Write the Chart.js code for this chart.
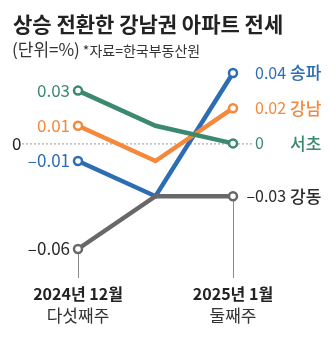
<!DOCTYPE html>
<html>
<head>
<meta charset="utf-8">
<script src="https://cdn.jsdelivr.net/npm/chart.js@4"></script>
<style>
  html, body { margin: 0; padding: 0; background: #fff; }
  canvas { display: block; }
</style>
</head>
<body>
<canvas id="chart" width="336" height="362"></canvas>
<script>
const weeks = ["2024년 12월|다섯째주", "2025년 1월|첫째주", "2025년 1월|둘째주"]
const districts = ["송파", "강남", "서초", "강동"]
const songpa = [-0.01, -0.03, 0.04]
const gangnam = [0.01, -0.01, 0.02]
const seocho = [0.03, 0.01, 0]
const gangdong = [-0.06, -0.03, -0.03]
const lineColors = ["#2d6db4", "#f4883b", "#3c8a6d", "#686868"]
const textColors = ["#2d6db4", "#f4883b", "#3c8a6d", "#2a2a2a"]
const tickWeeks = [0, 2]

const series = [songpa, gangnam, seocho, gangdong]
const NUM_FONT = "'Liberation Sans Narrow', 'Noto Sans CJK KR', sans-serif"
const KR_FONT = "'Noto Sans CJK KR', sans-serif"

function fmt(v) {
  if (v === 0) return "0"
  return (v < 0 ? "–" : "") + Math.abs(v).toFixed(2)
}

const decorations = {
  id: "decorations",
  beforeDatasetsDraw(chart) {
    const { ctx, scales: { x, y } } = chart
    ctx.save()
    // zero line
    const y0 = y.getPixelForValue(0)
    ctx.strokeStyle = "#9a9a9a"
    ctx.lineWidth = 1
    ctx.setLineDash([2, 2])
    ctx.beginPath()
    ctx.moveTo(22, y0 + 0.5)
    ctx.lineTo(252, y0 + 0.5)
    ctx.stroke()
    ctx.setLineDash([])
    // tick lines below the labelled weeks
    ctx.strokeStyle = "#8a8a8a"
    tickWeeks.forEach(i => {
      const px = Math.round(x.getPixelForValue(i)) + 0.5
      const low = Math.min(...series.map(s => s[i]))
      ctx.beginPath()
      ctx.moveTo(px, y.getPixelForValue(low))
      ctx.lineTo(px, 278)
      ctx.stroke()
    })
    ctx.restore()
  },
  afterDraw(chart) {
    const { ctx, scales: { x, y } } = chart
    ctx.save()
    ctx.textBaseline = "middle"

    // title
    ctx.fillStyle = "#222"
    ctx.textAlign = "left"
    ctx.font = "bold 21px " + KR_FONT
    ctx.fillText("상승 전환한 강남권 아파트 전세", 13, 24)
    ctx.font = "17px " + KR_FONT
    ctx.fillStyle = "#333"
    ctx.fillText("(단위=%)", 12, 50)
    const w = ctx.measureText("(단위=%)").width
    ctx.font = "14px " + KR_FONT
    ctx.fillText("*자료=한국부동산원", 15 + w, 51)

    // zero label
    ctx.font = "17px " + NUM_FONT
    ctx.fillStyle = "#222"
    ctx.fillText("0", 12, y.getPixelForValue(0))

    // left value labels
    const xl = x.getPixelForValue(0)
    ctx.textAlign = "right"
    series.forEach((s, i) => {
      ctx.fillStyle = textColors[i]
      ctx.font = "17px " + NUM_FONT
      ctx.fillText(fmt(s[0]), xl - 8, y.getPixelForValue(s[0]))
    })

    // right value + name labels
    const last = weeks.length - 1
    series.forEach((s, i) => {
      const py = y.getPixelForValue(s[last])
      ctx.fillStyle = textColors[i]
      ctx.font = "16px " + NUM_FONT
      ctx.textAlign = "left"
      let lx = 255
      if (s[last] < 0) lx -= ctx.measureText("–").width
      ctx.fillText(fmt(s[last]), lx, py)
      ctx.font = "500 17px " + KR_FONT
      ctx.fillText(districts[i], 290, py)
    })

    // week labels
    ctx.textAlign = "center"
    tickWeeks.forEach(i => {
      const px = x.getPixelForValue(i)
      const [a, b] = weeks[i].split("|")
      ctx.fillStyle = "#222"
      ctx.font = "bold 16px " + KR_FONT
      ctx.fillText(a, px, 294)
      ctx.font = "17px " + KR_FONT
      ctx.fillStyle = "#333"
      ctx.fillText(b, px, 316)
    })
    ctx.restore()
  }
}

new Chart(document.getElementById("chart"), {
  type: "line",
  data: {
    labels: weeks,
    datasets: series.map((s, i) => ({
      label: districts[i],
      data: s,
      borderColor: lineColors[i],
      backgroundColor: "#fff",
      borderWidth: 4.5,
      pointRadius: 4,
      pointBorderWidth: 2.5,
      pointBackgroundColor: c => c.dataIndex === 1 ? "transparent" : "#fff",
      pointBorderColor: c => c.dataIndex === 1 ? "transparent" : lineColors[i],
      tension: 0,
      clip: false,
      order: 4 - i
    }))
  },
  options: {
    responsive: false,
    animation: false,
    events: [],
    layout: { padding: { left: 78, right: 103, top: 73, bottom: 113 } },
    scales: {
      x: { display: false, offset: false },
      y: { display: false, min: -0.06, max: 0.04 }
    },
    plugins: { legend: { display: false }, tooltip: { enabled: false } }
  },
  plugins: [decorations]
})
</script>
</body>
</html>
